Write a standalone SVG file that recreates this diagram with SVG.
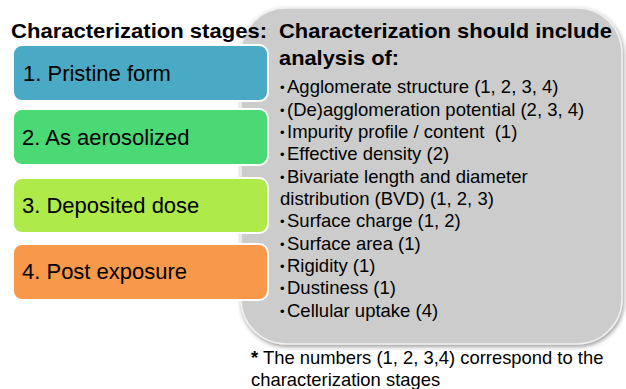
<svg xmlns="http://www.w3.org/2000/svg" width="626" height="389" viewBox="0 0 626 389">
<defs>
<style>
text{font-family:"Liberation Sans",Arial,sans-serif;fill:#000}
.h{font-weight:bold;font-size:21px}
.lbl{font-size:22px}
.it{font-size:18.5px}
.bul{font-size:13px}
.stage{stroke:#fff;stroke-width:2}
</style>
<filter id="sh" x="-5%" y="-5%" width="112%" height="115%">
<feDropShadow dx="1" dy="2" stdDeviation="2" flood-color="#555" flood-opacity="0.6"/>
</filter>
</defs>
<rect width="626" height="389" fill="#fff"/>
<g id="panel">
<rect x="241" y="8" width="381" height="336" rx="45" ry="45" fill="#cccccc" stroke="#f0f0f0" stroke-width="1.5" filter="url(#sh)"/>
</g>
<text class="h" x="11" y="38" textLength="256" lengthAdjust="spacingAndGlyphs">Characterization stages:</text>
<g id="stage1">
<rect class="stage" x="13" y="45" width="255" height="56" rx="9" fill="#4aaac5"/>
<text class="lbl" x="23" y="81">1. Pristine form</text>
</g>
<g id="stage2">
<rect class="stage" x="13" y="109" width="255" height="56" rx="9" fill="#4bd975"/>
<text class="lbl" x="22" y="145">2. As aerosolized</text>
</g>
<g id="stage3">
<rect class="stage" x="13" y="178" width="255" height="55" rx="9" fill="#aeea4a"/>
<text class="lbl" x="22" y="213">3. Deposited dose</text>
</g>
<g id="stage4">
<rect class="stage" x="13" y="244" width="255" height="56" rx="9" fill="#f7984a"/>
<text class="lbl" x="22" y="279">4. Post exposure</text>
</g>
<g id="analysis">
<text class="h" x="279" y="38" textLength="333" lengthAdjust="spacingAndGlyphs">Characterization should include</text>
<text class="h" x="279" y="65" textLength="120" lengthAdjust="spacingAndGlyphs">analysis of:</text>
<g class="bul">
<text x="280" y="92">•</text>
<text x="280" y="114.5">•</text>
<text x="280" y="137">•</text>
<text x="280" y="159">•</text>
<text x="280" y="181.5">•</text>
<text x="280" y="226">•</text>
<text x="280" y="248.5">•</text>
<text x="280" y="271">•</text>
<text x="280" y="293">•</text>
<text x="280" y="315.5">•</text>
</g>
<g class="it">
<text x="287" y="93.3">Agglomerate structure (1, 2, 3, 4)</text>
<text x="287" y="115.6">(De)agglomeration potential (2, 3, 4)</text>
<text x="287" y="138" xml:space="preserve">Impurity profile / content  (1)</text>
<text x="287" y="160.3">Effective density (2)</text>
<text x="287" y="182.6">Bivariate length and diameter</text>
<text x="280" y="205">distribution (BVD) (1, 2, 3)</text>
<text x="287" y="227.3">Surface charge (1, 2)</text>
<text x="287" y="249.6">Surface area (1)</text>
<text x="287" y="272">Rigidity (1)</text>
<text x="287" y="294.3">Dustiness (1)</text>
<text x="287" y="316.6">Cellular uptake (4)</text>
</g>
</g>
<g id="footnote" class="it">
<text x="251" y="364" style="font-size:18.4px"><tspan font-weight="bold">*</tspan> The numbers (1, 2, 3,4) correspond to the</text>
<text x="251" y="386" style="font-size:18.4px">characterization stages</text>
</g>
</svg>
